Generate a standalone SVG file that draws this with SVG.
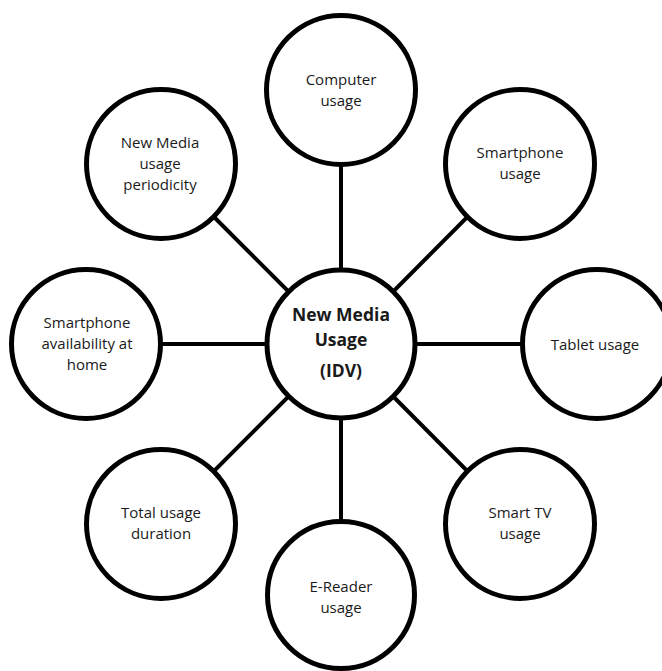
<svg xmlns="http://www.w3.org/2000/svg" width="662" height="671" viewBox="0 0 662 671">
<style>
.c{fill:#fff;stroke:#000;stroke-width:5}
.l{stroke:#000;stroke-width:4;fill:none}
.t{font-family:"Open Sans","Liberation Sans",sans-serif;font-size:15px;fill:#1a1a1a;text-anchor:middle}
.b{font-family:"Open Sans","Liberation Sans",sans-serif;font-size:17.5px;font-weight:bold;fill:#1a1a1a;text-anchor:middle}
</style>
<rect width="662" height="671" fill="#fff"/>
<g id="connectors">
<line class="l" x1="341" y1="344" x2="341" y2="90"/>
<line class="l" x1="341" y1="344" x2="341" y2="595"/>
<line class="l" x1="341" y1="344" x2="86" y2="344"/>
<line class="l" x1="341" y1="344" x2="597" y2="344"/>
<line class="l" x1="341" y1="344" x2="161" y2="164"/>
<line class="l" x1="341" y1="344" x2="520" y2="164"/>
<line class="l" x1="341" y1="344" x2="161" y2="524"/>
<line class="l" x1="341" y1="344" x2="520" y2="524"/>
</g>
<g id="center">
<circle class="c" cx="341" cy="344" r="74"/>
<text class="b" x="341" y="321">New Media</text>
<text class="b" x="341" y="346">Usage</text>
<text class="b" x="341" y="377">(IDV)</text>
</g>
<g id="computer">
<circle class="c" cx="341" cy="90" r="74.5"/>
<text class="t" x="341" y="85">Computer</text>
<text class="t" x="341" y="106">usage</text>
</g>
<g id="smartphone">
<circle class="c" cx="520" cy="164" r="74.5"/>
<text class="t" x="520" y="158">Smartphone</text>
<text class="t" x="520" y="179">usage</text>
</g>
<g id="tablet">
<circle class="c" cx="597" cy="344" r="74.5"/>
<text class="t" x="595" y="350">Tablet usage</text>
</g>
<g id="smarttv">
<circle class="c" cx="520" cy="524" r="74.5"/>
<text class="t" x="520" y="518">Smart TV</text>
<text class="t" x="520" y="539">usage</text>
</g>
<g id="ereader">
<circle class="c" cx="341" cy="595" r="73.5"/>
<text class="t" x="341" y="592">E-Reader</text>
<text class="t" x="341" y="613">usage</text>
</g>
<g id="total">
<circle class="c" cx="161" cy="524" r="74.5"/>
<text class="t" x="161" y="518">Total usage</text>
<text class="t" x="161" y="539">duration</text>
</g>
<g id="availability">
<circle class="c" cx="86" cy="344" r="74.5"/>
<text class="t" x="87" y="328">Smartphone</text>
<text class="t" x="87" y="349">availability at</text>
<text class="t" x="87" y="370">home</text>
</g>
<g id="periodicity">
<circle class="c" cx="161" cy="164" r="74.5"/>
<text class="t" x="160" y="148">New Media</text>
<text class="t" x="160" y="169">usage</text>
<text class="t" x="160" y="190">periodicity</text>
</g>
</svg>
